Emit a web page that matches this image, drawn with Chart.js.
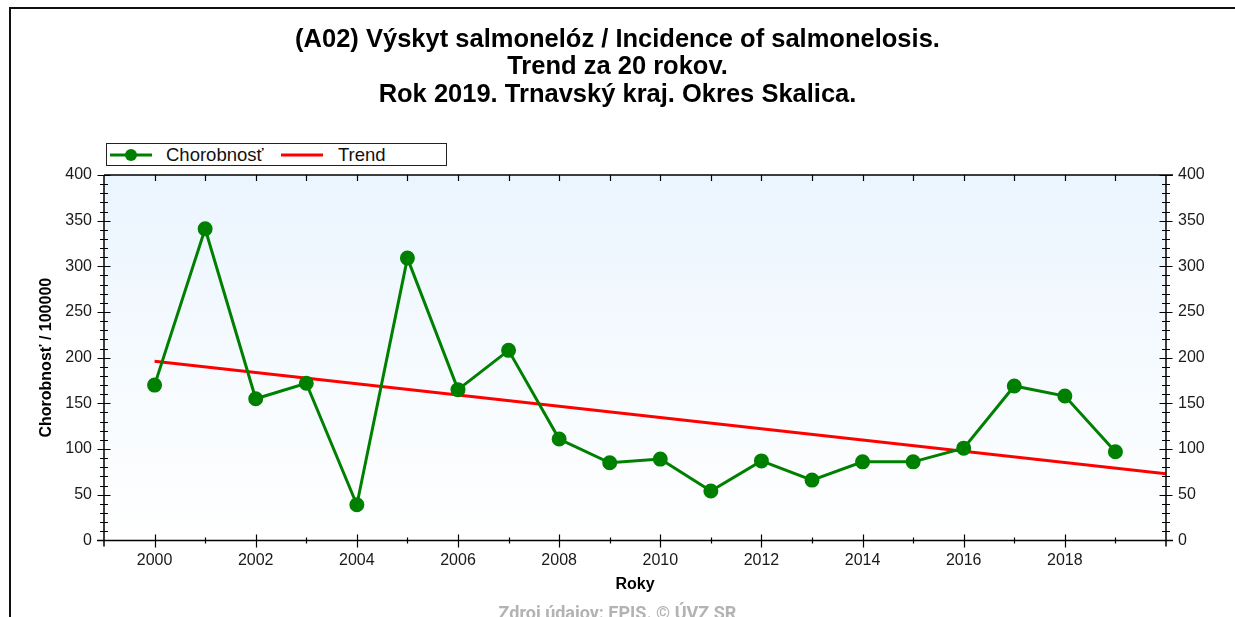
<!DOCTYPE html>
<html>
<head>
<meta charset="utf-8">
<script src="https://cdn.jsdelivr.net/npm/chart.js@4.4.0/dist/chart.umd.min.js"></script>
<style>
  html, body { margin: 0; padding: 0; background: #fff; overflow: hidden; }
  #wrap { position: relative; width: 1235px; height: 640px; }
  #frame { position: absolute; left: 9px; top: 7px; width: 1240px; height: 640px;
           border-left: 2px solid #111; border-top: 2px solid #111; }
  #legend { position: absolute; left: 106px; top: 143px; width: 339px; height: 21px;
            border: 1px solid #222; background: #fff;
            font: 18.5px "Liberation Sans", Arial, sans-serif; color: #111; }
  #legend svg, #legend span { position: absolute; }
  canvas { position: absolute; left: 0; top: 0; }
</style>
</head>
<body>
<div id="wrap">
  <div id="frame"></div>
  <canvas id="chartCanvas" width="1235" height="640"></canvas>
  <div id="legend">
    <svg style="left:3px;top:4px" width="42" height="14">
      <line x1="0" y1="7" x2="42" y2="7" stroke="#008000" stroke-width="3"/>
      <circle cx="21" cy="7" r="6" fill="#008000"/>
    </svg>
    <span style="left:59px;top:0px">Chorobnosť</span>
    <svg style="left:174px;top:4px" width="42" height="14">
      <line x1="0" y1="7" x2="42" y2="7" stroke="#ff0000" stroke-width="3"/>
    </svg>
    <span style="left:231px;top:0px">Trend</span>
  </div>
</div>
<script>
// data
const years = [2000, 2001, 2002, 2003, 2004, 2005, 2006, 2007, 2008, 2009,
               2010, 2011, 2012, 2013, 2014, 2015, 2016, 2017, 2018, 2019];
const incidence = [170, 341, 155, 172, 39, 309, 165, 208, 111, 85,
                   89, 54, 87, 66, 86, 86, 101, 169, 158, 97];
const trendYears = [2000, 2020];
const trendValues = [196, 73];
const xTickYears = [2000, 2002, 2004, 2006, 2008, 2010, 2012, 2014, 2016, 2018];
const titleLines = [
  "(A02) Výskyt salmonelóz / Incidence of salmonelosis.",
  "Trend za 20 rokov.",
  "Rok 2019. Trnavský kraj. Okres Skalica."
];
const footerText = "Zdroj údajov: EPIS. © ÚVZ SR";

const FONT = '"Liberation Sans", Arial, sans-serif';

const frame = {
  id: "frame",
  beforeDraw(chart) {
    const { ctx, chartArea: a } = chart;
    const g = ctx.createLinearGradient(0, a.top, 0, a.bottom);
    g.addColorStop(0, "#ebf5fe");
    g.addColorStop(1, "#ffffff");
    ctx.save();
    ctx.fillStyle = g;
    ctx.fillRect(a.left, a.top, a.right - a.left, a.bottom - a.top);
    ctx.restore();
  },
  afterDraw(chart) {
    const { ctx, chartArea: a, scales } = chart;
    const x = scales.x, y = scales.y;
    ctx.save();
    ctx.strokeStyle = "#000";
    ctx.lineWidth = 1.5;
    ctx.beginPath();
    ctx.moveTo(a.left - 7, a.bottom); ctx.lineTo(a.right + 7, a.bottom);
    ctx.moveTo(a.left, a.top); ctx.lineTo(a.right + 7, a.top);
    ctx.moveTo(a.left, a.top); ctx.lineTo(a.left, a.bottom + 6);
    ctx.moveTo(a.right, a.top); ctx.lineTo(a.right, a.bottom + 6);
    ctx.stroke();

    ctx.lineWidth = 1.2;
    ctx.beginPath();
    for (let v = 0; v <= 400; v += 10) {
      const py = Math.round(y.getPixelForValue(v)) + 0.5;
      const len = v % 50 === 0 ? 6.5 : 4;
      ctx.moveTo(a.left - len, py); ctx.lineTo(a.left + len, py);
      ctx.moveTo(a.right - len, py); ctx.lineTo(a.right + len, py);
    }
    years.forEach((yr) => {
      const px = Math.round(x.getPixelForValue(yr)) + 0.5;
      const major = yr % 2 === 0;
      ctx.moveTo(px, a.bottom - (major ? 6 : 3));
      ctx.lineTo(px, a.bottom + (major ? 7 : 3));
      ctx.moveTo(px, a.top);
      ctx.lineTo(px, a.top + 6);
    });
    ctx.stroke();
    ctx.restore();
  },
};

const canvas = document.getElementById("chartCanvas");
new Chart(canvas, {
  type: "line",
  data: {
    datasets: [
      {
        label: "Chorobnosť",
        data: years.map((yr, i) => ({ x: yr, y: incidence[i] })),
        borderColor: "#008000",
        backgroundColor: "#008000",
        borderWidth: 3,
        pointRadius: 6,
        pointHoverRadius: 6,
        tension: 0,
        yAxisID: "y",
      },
      {
        label: "Trend",
        data: trendYears.map((yr, i) => ({ x: yr, y: trendValues[i] })),
        borderColor: "#ff0000",
        borderWidth: 3,
        pointRadius: 0,
        tension: 0,
        yAxisID: "y",
      },
    ],
  },
  options: {
    responsive: false,
    animation: false,
    layout: { padding: 0 },
    plugins: {
      legend: { display: false },
      tooltip: { enabled: false },
      title: {
        display: true,
        text: titleLines,
        color: "#000",
        font: { family: FONT, size: 25.5, weight: "bold", lineHeight: 1.078 },
        padding: { top: 26, bottom: 66.5 },
      },
      subtitle: {
        display: true,
        position: "bottom",
        text: footerText,
        color: "#b3b3b3",
        font: { family: "Roboto, " + FONT, size: 18, weight: "bold", lineHeight: 1.2 },
        padding: { top: 0, bottom: 15 },
      },
    },
    scales: {
      x: {
        type: "linear",
        min: 1999,
        max: 2020,
        grid: { display: false, drawTicks: false },
        border: { display: false },
        afterBuildTicks: (s) => { s.ticks = xTickYears.map((v) => ({ value: v })); },
        afterFit: (s) => { s.height = 63; },
        ticks: {
          autoSkip: false,
          maxRotation: 0,
          padding: 11,
          color: "#1a1a1a",
          font: { family: FONT, size: 16 },
          callback: (v) => String(v),
        },
        title: {
          display: true,
          text: "Roky",
          color: "#000",
          font: { family: FONT, size: 16, weight: "bold", lineHeight: 1.2 },
          padding: { top: 0, bottom: 9 },
        },
      },
      y: {
        position: "left",
        min: 0,
        max: 400,
        grid: { display: false, drawTicks: false },
        border: { display: false },
        afterFit: (s) => { s.width = 104; },
        ticks: { stepSize: 50, padding: 12, color: "#1a1a1a", font: { family: FONT, size: 16 } },
        title: {
          display: true,
          text: "Chorobnosť / 100000",
          color: "#000",
          font: { family: FONT, size: 16, weight: "bold", lineHeight: 1.2 },
          padding: { top: 37, bottom: 0 },
        },
      },
      y2: {
        position: "right",
        min: 0,
        max: 400,
        grid: { display: false, drawTicks: false },
        border: { display: false },
        afterFit: (s) => { s.width = 69; },
        ticks: { stepSize: 50, padding: 12, color: "#1a1a1a", font: { family: FONT, size: 16 } },
      },
    },
  },
  plugins: [frame],
});
</script>
</body>
</html>
